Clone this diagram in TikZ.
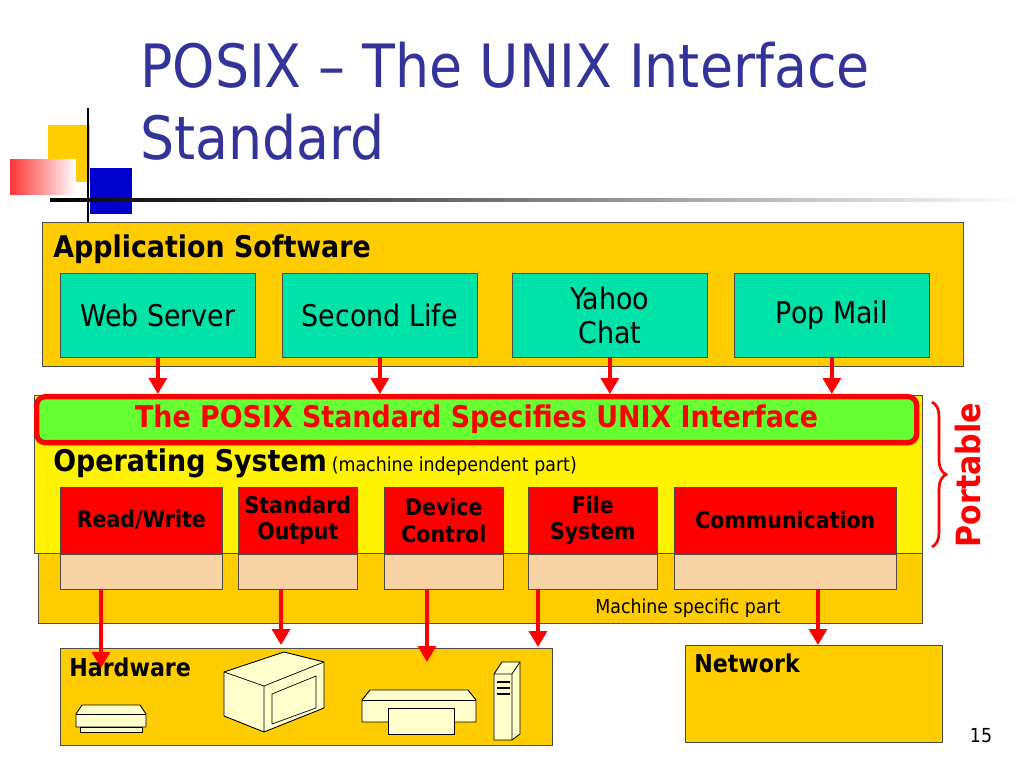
\documentclass[tikz,border=0pt]{standalone}
\usepackage{fontspec}
\setmainfont{DejaVu Sans Condensed}
\usetikzlibrary{arrows.meta, decorations.pathreplacing, positioning}
\definecolor{gold}{HTML}{FFCC00}
\definecolor{mint}{HTML}{00E3A8}
\definecolor{lime}{HTML}{66FF33}
\definecolor{peach}{HTML}{F8D4A4}
\definecolor{navy}{HTML}{333399}
\definecolor{pale}{HTML}{FFFFCC}

\tikzset{
box/.style={draw=black!70, anchor=north west, inner sep=0pt},
app/.style={box, fill=mint, align=center, font={\fontsize{17}{19}\selectfont},
  minimum width=39mm, minimum height=16.8mm},
part/.style={box, fill=red, align=center, font={\bfseries\fontsize{13}{15}\selectfont},
  minimum height=13.2mm},
base/.style={box, fill=peach, minimum height=7mm},
link/.style={draw=red, line width=2.2pt, -{Triangle[length=9pt, width=10pt]}},
icon/.style={draw=black, fill=pale, line width=0.5pt, line join=round},
}

\begin{document}
\begin{tikzpicture}[x=0.2mm, y=-0.2mm]
\useasboundingbox (0,0) rectangle (1024,768);

% corner decoration
\fill[gold] (48,125) rectangle (90,182);
\fill[blue!80!black] (90,168) rectangle (132,214);
\shade[left color=red!80, right color=white] (10,160) rectangle (76,195);
\draw[line width=1.2pt] (88,108) -- (88,222);
\shade[left color=black, right color=white] (50,199) rectangle (1024,202);

% title
\node[anchor=north west, text=navy, align=left, inner sep=0pt,
  font={\fontsize{34}{41}\selectfont}] (title) at (140,42)
  {POSIX – The UNIX Interface\\Standard};

% application layer
\node[box, fill=gold, minimum width=184.2mm, minimum height=28.8mm] (apps) at (42,222) {};
\node[anchor=west, inner sep=0pt, font={\bfseries\fontsize{17}{19}\selectfont}] (appl) at (53,249) {Application Software};
\node[app] (web) at (60,273) {Web Server};
\node[app] (life) at (282,273) {Second Life};
\node[app] (chat) at (512,273) {Yahoo\\Chat};
\node[app] (mail) at (734,273) {Pop Mail};

% operating system
\node[box, fill=gold, minimum width=176.8mm, minimum height=14mm] (mach) at (38,553) {};
\node[box, fill=yellow, minimum width=177.6mm, minimum height=31.6mm] (os) at (34,395) {};
\node[draw=red, line width=3pt, rounded corners=5pt, fill=lime, minimum width=176mm,
  minimum height=9.2mm, text=red, font={\bfseries\fontsize{17}{19}\selectfont},
  anchor=north west] (posix) at (34,394) {The POSIX Standard Specifies UNIX Interface};
\node[anchor=west, inner sep=0pt] (osl) at (53,463)
  {{\bfseries\fontsize{17}{19}\selectfont Operating System} {\fontsize{11}{13}\selectfont(machine independent part)}};

\node[part, minimum width=32.4mm] (rw) at (60,487) {Read/Write};
\node[part, minimum width=23.8mm] (out) at (238,487) {Standard\\Output};
\node[part, minimum width=23.8mm] (dev) at (384,487) {Device\\Control};
\node[part, minimum width=25.8mm] (fs) at (528,487) {File\\System};
\node[part, minimum width=44.4mm] (comm) at (674,487) {Communication};
\node[base, minimum width=32.4mm] (rwb) at (rw.south west) {};
\node[base, minimum width=23.8mm] (outb) at (out.south west) {};
\node[base, minimum width=23.8mm] (devb) at (dev.south west) {};
\node[base, minimum width=25.8mm] (fsb) at (fs.south west) {};
\node[base, minimum width=44.4mm] (commb) at (comm.south west) {};
\node[inner sep=0pt, font={\fontsize{11}{13}\selectfont}] (machl) at (688,608) {Machine specific part};

% portable brace
\draw[red, line width=1.5pt, decorate, decoration={brace, amplitude=8pt}]
  (932,402) -- (932,547);
\node[rotate=90, text=red, inner sep=0pt, font={\bfseries\fontsize{19}{21}\selectfont}] (port) at (968,475) {Portable};

% hardware and network
\node[box, fill=gold, minimum width=98.4mm, minimum height=19.4mm] (hw) at (60,648) {};
\node[anchor=west, inner sep=0pt, font={\bfseries\fontsize{14}{16}\selectfont}] (hwl) at (69,667) {Hardware};
\node[box, fill=gold, minimum width=51.4mm, minimum height=19.4mm] (net) at (685,645) {};
\node[anchor=west, inner sep=0pt, font={\bfseries\fontsize{14}{16}\selectfont}] (netl) at (694,663) {Network};
\node[inner sep=0pt, font={\fontsize{11}{13}\selectfont}] (page) at (981,736) {15};

% devices
\draw[icon] (76,714) -- (82,705) -- (140,705) -- (146,714) -- (146,727) -- (76,727) -- cycle;
\draw[icon] (80,727) rectangle (142,732);
\draw (76,714) -- (146,714);
\draw[icon] (224,672) -- (284,652) -- (324,662) -- (324,708) -- (264,732) -- (224,716) -- cycle;
\draw (224,672) -- (264,686) -- (324,662) (264,686) -- (264,732);
\draw (272,694) -- (316,676) -- (316,708) -- (272,724) -- cycle;
\draw[icon] (362,700) -- (370,690) -- (468,690) -- (476,700) -- (476,722) -- (362,722) -- cycle;
\draw (362,700) -- (476,700);
\draw[icon] (388,708) rectangle (454,734);
\draw[icon] (494,674) -- (502,662) -- (520,662) -- (520,734) -- (512,740) -- (494,740) -- cycle;
\draw (494,674) -- (512,674) -- (520,662) (512,674) -- (512,740);
\foreach \y in {682,688,694} \draw[line width=1pt] (497,\y) -- (510,\y);

% calls
\foreach \a in {web, life, chat, mail}
  \draw[link] (\a) -- (\a |- posix.north);
\coordinate (d1) at (101,668);
\coordinate (d2) at (281,645);
\coordinate (d3) at (427,662);
\coordinate (d4) at (538,647);
\coordinate (d5) at (818,645);
\draw[link] (rwb.south -| d1) -- (d1);
\draw[link] (outb.south -| d2) -- (d2);
\draw[link] (devb.south -| d3) -- (d3);
\draw[link] (fsb.south -| d4) -- (d4);
\draw[link] (commb.south -| d5) -- (d5);

\end{tikzpicture}
\end{document}
